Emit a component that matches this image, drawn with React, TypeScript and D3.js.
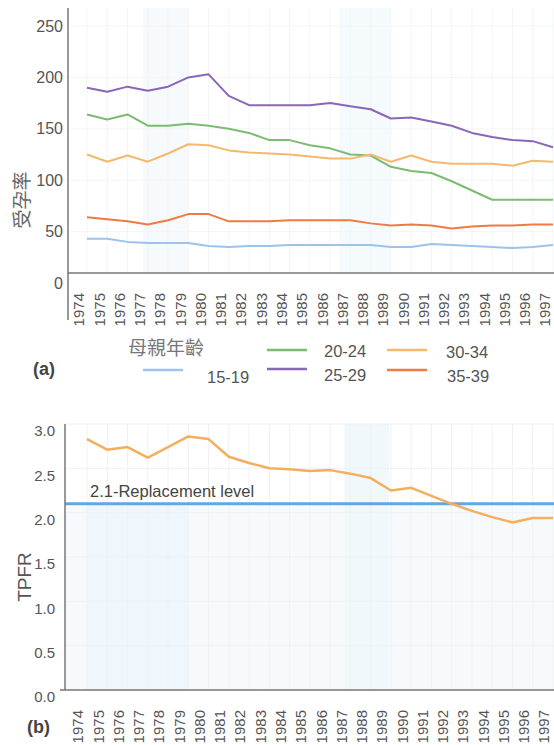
import React from "react";
import * as d3 from "d3";

// years on the x axis (both panels)
const years = [
  1974, 1975, 1976, 1977, 1978, 1979, 1980, 1981, 1982, 1983, 1984, 1985,
  1986, 1987, 1988, 1989, 1990, 1991, 1992, 1993, 1994, 1995, 1996, 1997,
];

// panel (a): age-specific fertility by mother's age
const age15_19 = [43, 43, 40, 39, 39, 39, 36, 35, 36, 36, 37, 37, 37, 37, 37, 35, 35, 38, 37, 36, 35, 34, 35, 37];
const age20_24 = [164, 159, 164, 153, 153, 155, 153, 150, 146, 139, 139, 134, 131, 125, 124, 113, 109, 107, 99, 90, 81, 81, 81, 81];
const age25_29 = [190, 186, 191, 187, 191, 200, 203, 182, 173, 173, 173, 173, 175, 172, 169, 160, 161, 157, 153, 146, 142, 139, 138, 132];
const age30_34 = [125, 118, 124, 118, 126, 135, 134, 129, 127, 126, 125, 123, 121, 121, 125, 118, 124, 118, 116, 116, 116, 114, 119, 118];
const age35_39 = [64, 62, 60, 57, 61, 67, 67, 60, 60, 60, 61, 61, 61, 61, 58, 56, 57, 56, 53, 55, 56, 56, 57, 57];
const ticksA = [0, 50, 100, 150, 200, 250];

// panel (b): TPFR
const tpfr = [2.83, 2.71, 2.74, 2.62, 2.74, 2.86, 2.83, 2.63, 2.56, 2.5, 2.49, 2.47, 2.48, 2.44, 2.39, 2.25, 2.28, 2.19, 2.1, 2.02, 1.95, 1.89, 1.94, 1.94];
const replacement = 2.1;
const ticksB = [0, 0.5, 1, 1.5, 2, 2.5, 3];

const seriesA = [
  { name: "15-19", values: age15_19, color: "#9cc3ec" },
  { name: "20-24", values: age20_24, color: "#7cbb72" },
  { name: "25-29", values: age25_29, color: "#8a66b9" },
  { name: "30-34", values: age30_34, color: "#f6b86c" },
  { name: "35-39", values: age35_39, color: "#ef7b42" },
];

const FONT = "'Liberation Sans', Arial, sans-serif";
const CJK = "'Noto Sans CJK TC', 'Noto Sans CJK SC', sans-serif";
const TXT = "#555";

export default function App() {
  const x = d3.scalePoint<number>().domain(years).range([87, 553]);
  const xl = (yr: number) => 87 + ((yr - 1974) * 466) / 23; // continuous for bands

  // panel a
  const yA = d3.scaleLinear().domain([0, 250]).range([283, 26]);
  const axisA = { left: 68, top: 8, bottom: 273 };
  const lineA = (vals: number[]) =>
    d3.line<number>().x((_, i) => x(years[i])!).y((d) => yA(d))(vals) || "";

  // panel b
  const yB = d3.scaleLinear().domain([0, 3]).range([690, 424]);
  const axisB = { left: 65, top: 424, bottom: 690 };
  const lineB =
    d3.line<number>().x((_, i) => x(years[i])!).y((d) => yB(d))(tpfr) || "";

  const legendA = [
    { s: seriesA[1], lx: 267, ly: 350, tx: 324, ty: 351 },
    { s: seriesA[3], lx: 387, ly: 350, tx: 446, ty: 352 },
    { s: seriesA[0], lx: 143, ly: 370, tx: 207, ty: 377 },
    { s: seriesA[2], lx: 267, ly: 369, tx: 324, ty: 375 },
    { s: seriesA[4], lx: 387, ly: 370, tx: 447, ty: 376 },
  ];

  return (
    <svg
      width={554}
      height={745}
      style={{ position: "absolute", left: 0, top: 0, background: "#fff" }}
      fontFamily={FONT}
    >
      {/* ---------- panel (a) ---------- */}
      <g>
        <rect x={xl(1976.75)} y={axisA.top} width={xl(1979) - xl(1976.75)} height={axisA.bottom - axisA.top} fill="#f6fafd" />
        <rect x={xl(1986.45)} y={axisA.top} width={xl(1989) - xl(1986.45)} height={axisA.bottom - axisA.top} fill="#f5fafd" />
        {years.map((yr) => (
          <line key={yr} x1={x(yr)} x2={x(yr)} y1={axisA.top} y2={axisA.bottom} stroke="#f3f5f7" />
        ))}
        {ticksA.slice(1).map((t) => (
          <line key={t} x1={axisA.left} x2={554} y1={yA(t)} y2={yA(t)} stroke="#f4f5f7" />
        ))}
        {seriesA.map((s) => (
          <path key={s.name} d={lineA(s.values)} fill="none" stroke={s.color} strokeWidth={2} strokeLinejoin="round" />
        ))}
        <line x1={axisA.left} x2={axisA.left} y1={axisA.top} y2={320} stroke="#777" strokeWidth={1.5} />
        <line x1={axisA.left} x2={554} y1={axisA.bottom} y2={axisA.bottom} stroke="#777" strokeWidth={1.5} />
        {ticksA.map((t) => (
          <text key={t} x={63} y={yA(t)} textAnchor="end" dy="0.35em" fontSize={16} fill={TXT}>
            {t}
          </text>
        ))}
        <text
          transform={`translate(22,200) rotate(-90)`}
          textAnchor="middle"
          dy="0.35em"
          fontSize={19}
          fontFamily={CJK}
          fill="#666"
        >
          受孕率
        </text>
        {years.map((yr) => (
          <text
            key={yr}
            transform={`translate(${x(yr)! - 8},293) rotate(-90)`}
            textAnchor="end"
            dy="0.36em"
            fontSize={15}
            fill={TXT}
          >
            {yr}
          </text>
        ))}
        <text x={128} y={348} dy="0.35em" fontSize={19} fontFamily={CJK} fill="#777">
          母親年齡
        </text>
        <text x={33} y={369} dy="0.36em" fontSize={18} fontWeight="bold" fill="#444">
          (a)
        </text>
        {legendA.map((l) => (
          <g key={l.s.name}>
            <line x1={l.lx} x2={l.lx + 40} y1={l.ly} y2={l.ly} stroke={l.s.color} strokeWidth={2.5} />
            <text x={l.tx} y={l.ty} dy="0.35em" fontSize={16.5} fill={TXT}>
              {l.s.name}
            </text>
          </g>
        ))}
      </g>

      {/* ---------- panel (b) ---------- */}
      <g>
        <rect x={axisB.left + 1} y={yB(2.08)} width={554 - axisB.left} height={axisB.bottom - yB(2.08)} fill="#f6fafd" />
        <rect x={xl(1973.95)} y={yB(2.08)} width={xl(1979) - xl(1973.95)} height={axisB.bottom - yB(2.08)} fill="#eff7fc" />
        <rect x={xl(1986.7)} y={axisB.top} width={xl(1988.9) - xl(1986.7)} height={axisB.bottom - axisB.top} fill="#f0f8fc" />
        {years.map((yr) => (
          <line key={yr} x1={x(yr)} x2={x(yr)} y1={axisB.top} y2={axisB.bottom} stroke="#eef2f5" />
        ))}
        {ticksB.slice(1).map((t) => (
          <line key={t} x1={axisB.left} x2={554} y1={yB(t)} y2={yB(t)} stroke="#eef1f4" />
        ))}
        <line x1={axisB.left} x2={554} y1={yB(replacement)} y2={yB(replacement)} stroke="#5ea9e4" strokeWidth={3} />
        <text x={90} y={yB(replacement) - 13} dy="0.35em" fontSize={16.5} fill="#444">
          {replacement}-Replacement level
        </text>
        <path d={lineB} fill="none" stroke="#f4ae5e" strokeWidth={2.5} strokeLinejoin="round" />
        <line x1={axisB.left} x2={axisB.left} y1={axisB.top} y2={axisB.bottom} stroke="#777" strokeWidth={1.5} />
        <line x1={60} x2={554} y1={axisB.bottom} y2={axisB.bottom} stroke="#777" strokeWidth={1.5} />
        {ticksB.map((t) => (
          <text key={t} x={55} y={yB(t) + 7} textAnchor="end" dy="0.35em" fontSize={15} fill={TXT}>
            {d3.format(".1f")(t)}
          </text>
        ))}
        <text
          transform={`translate(24,577) rotate(-90)`}
          textAnchor="middle"
          dy="0.35em"
          fontSize={19}
          fill={TXT}
        >
          TPFR
        </text>
        {years.map((yr) => (
          <text
            key={yr}
            transform={`translate(${x(yr)! - 9},710) rotate(-90)`}
            textAnchor="end"
            dy="0.36em"
            fontSize={15}
            fill={TXT}
          >
            {yr}
          </text>
        ))}
        <text x={27} y={727} dy="0.36em" fontSize={18} fontWeight="bold" fill="#444">
          (b)
        </text>
      </g>
    </svg>
  );
}
